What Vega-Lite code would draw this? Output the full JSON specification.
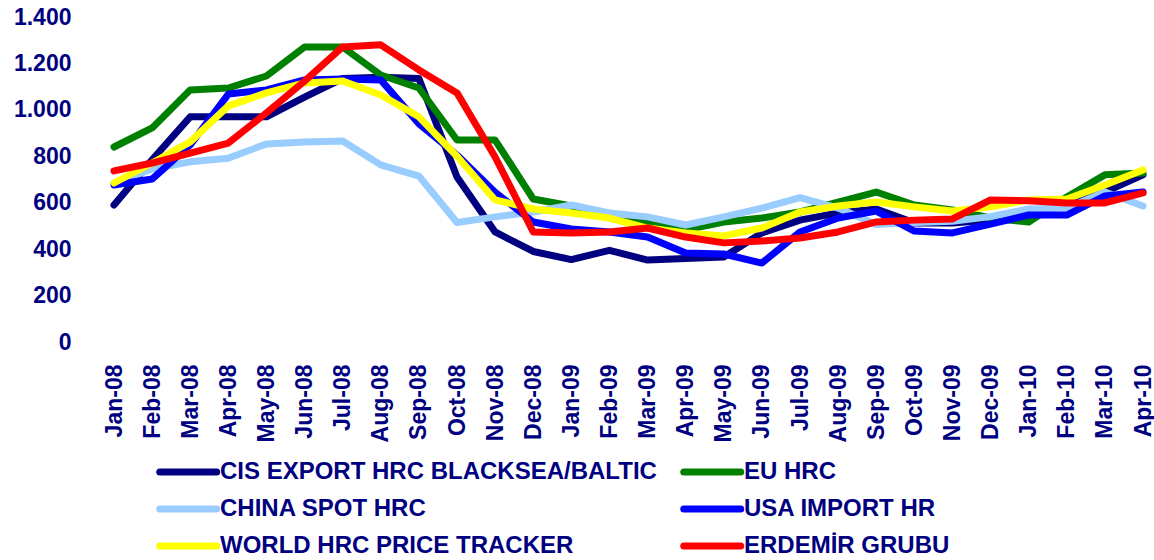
{
 "$schema": "https://vega.github.io/schema/vega-lite/v6.json",
 "width": 1029,
 "height": 325,
 "autosize": {"type": "none"},
 "padding": {"left": 114, "top": 17, "right": 11, "bottom": 218},
 "config": {"view": {"stroke": null}, "font": "Liberation Sans"},
 "data": {"values": [
  {"s":"CIS EXPORT HRC BLACKSEA/BALTIC","m":"Jan-08","v":590},{"s":"CIS EXPORT HRC BLACKSEA/BALTIC","m":"Feb-08","v":785},{"s":"CIS EXPORT HRC BLACKSEA/BALTIC","m":"Mar-08","v":970},{"s":"CIS EXPORT HRC BLACKSEA/BALTIC","m":"Apr-08","v":970},{"s":"CIS EXPORT HRC BLACKSEA/BALTIC","m":"May-08","v":970},{"s":"CIS EXPORT HRC BLACKSEA/BALTIC","m":"Jun-08","v":1055},{"s":"CIS EXPORT HRC BLACKSEA/BALTIC","m":"Jul-08","v":1135},{"s":"CIS EXPORT HRC BLACKSEA/BALTIC","m":"Aug-08","v":1140},{"s":"CIS EXPORT HRC BLACKSEA/BALTIC","m":"Sep-08","v":1135},{"s":"CIS EXPORT HRC BLACKSEA/BALTIC","m":"Oct-08","v":711},{"s":"CIS EXPORT HRC BLACKSEA/BALTIC","m":"Nov-08","v":474},{"s":"CIS EXPORT HRC BLACKSEA/BALTIC","m":"Dec-08","v":390},{"s":"CIS EXPORT HRC BLACKSEA/BALTIC","m":"Jan-09","v":355},{"s":"CIS EXPORT HRC BLACKSEA/BALTIC","m":"Feb-09","v":395},{"s":"CIS EXPORT HRC BLACKSEA/BALTIC","m":"Mar-09","v":353},{"s":"CIS EXPORT HRC BLACKSEA/BALTIC","m":"Apr-09","v":360},{"s":"CIS EXPORT HRC BLACKSEA/BALTIC","m":"May-09","v":366},{"s":"CIS EXPORT HRC BLACKSEA/BALTIC","m":"Jun-09","v":470},{"s":"CIS EXPORT HRC BLACKSEA/BALTIC","m":"Jul-09","v":525},{"s":"CIS EXPORT HRC BLACKSEA/BALTIC","m":"Aug-09","v":556},{"s":"CIS EXPORT HRC BLACKSEA/BALTIC","m":"Sep-09","v":573},{"s":"CIS EXPORT HRC BLACKSEA/BALTIC","m":"Oct-09","v":513},{"s":"CIS EXPORT HRC BLACKSEA/BALTIC","m":"Nov-09","v":513},{"s":"CIS EXPORT HRC BLACKSEA/BALTIC","m":"Dec-09","v":525},{"s":"CIS EXPORT HRC BLACKSEA/BALTIC","m":"Jan-10","v":547},{"s":"CIS EXPORT HRC BLACKSEA/BALTIC","m":"Feb-10","v":600},{"s":"CIS EXPORT HRC BLACKSEA/BALTIC","m":"Mar-10","v":646},{"s":"CIS EXPORT HRC BLACKSEA/BALTIC","m":"Apr-10","v":720},
  {"s":"EU HRC","m":"Jan-08","v":840},{"s":"EU HRC","m":"Feb-08","v":922},{"s":"EU HRC","m":"Mar-08","v":1086},{"s":"EU HRC","m":"Apr-08","v":1094},{"s":"EU HRC","m":"May-08","v":1146},{"s":"EU HRC","m":"Jun-08","v":1271},{"s":"EU HRC","m":"Jul-08","v":1271},{"s":"EU HRC","m":"Aug-08","v":1150},{"s":"EU HRC","m":"Sep-08","v":1094},{"s":"EU HRC","m":"Oct-08","v":870},{"s":"EU HRC","m":"Nov-08","v":870},{"s":"EU HRC","m":"Dec-08","v":616},{"s":"EU HRC","m":"Jan-09","v":586},{"s":"EU HRC","m":"Feb-09","v":539},{"s":"EU HRC","m":"Mar-09","v":513},{"s":"EU HRC","m":"Apr-09","v":483},{"s":"EU HRC","m":"May-09","v":517},{"s":"EU HRC","m":"Jun-09","v":534},{"s":"EU HRC","m":"Jul-09","v":560},{"s":"EU HRC","m":"Aug-09","v":603},{"s":"EU HRC","m":"Sep-09","v":646},{"s":"EU HRC","m":"Oct-09","v":590},{"s":"EU HRC","m":"Nov-09","v":569},{"s":"EU HRC","m":"Dec-09","v":534},{"s":"EU HRC","m":"Jan-10","v":517},{"s":"EU HRC","m":"Feb-10","v":625},{"s":"EU HRC","m":"Mar-10","v":720},{"s":"EU HRC","m":"Apr-10","v":728},
  {"s":"CHINA SPOT HRC","m":"Jan-08","v":685},{"s":"CHINA SPOT HRC","m":"Feb-08","v":745},{"s":"CHINA SPOT HRC","m":"Mar-08","v":776},{"s":"CHINA SPOT HRC","m":"Apr-08","v":792},{"s":"CHINA SPOT HRC","m":"May-08","v":853},{"s":"CHINA SPOT HRC","m":"Jun-08","v":862},{"s":"CHINA SPOT HRC","m":"Jul-08","v":866},{"s":"CHINA SPOT HRC","m":"Aug-08","v":763},{"s":"CHINA SPOT HRC","m":"Sep-08","v":715},{"s":"CHINA SPOT HRC","m":"Oct-08","v":515},{"s":"CHINA SPOT HRC","m":"Nov-08","v":539},{"s":"CHINA SPOT HRC","m":"Dec-08","v":560},{"s":"CHINA SPOT HRC","m":"Jan-09","v":590},{"s":"CHINA SPOT HRC","m":"Feb-09","v":556},{"s":"CHINA SPOT HRC","m":"Mar-09","v":539},{"s":"CHINA SPOT HRC","m":"Apr-09","v":504},{"s":"CHINA SPOT HRC","m":"May-09","v":539},{"s":"CHINA SPOT HRC","m":"Jun-09","v":577},{"s":"CHINA SPOT HRC","m":"Jul-09","v":622},{"s":"CHINA SPOT HRC","m":"Aug-09","v":577},{"s":"CHINA SPOT HRC","m":"Sep-09","v":506},{"s":"CHINA SPOT HRC","m":"Oct-09","v":515},{"s":"CHINA SPOT HRC","m":"Nov-09","v":520},{"s":"CHINA SPOT HRC","m":"Dec-09","v":540},{"s":"CHINA SPOT HRC","m":"Jan-10","v":573},{"s":"CHINA SPOT HRC","m":"Feb-10","v":577},{"s":"CHINA SPOT HRC","m":"Mar-10","v":646},{"s":"CHINA SPOT HRC","m":"Apr-10","v":586},
  {"s":"USA IMPORT HR","m":"Jan-08","v":676},{"s":"USA IMPORT HR","m":"Feb-08","v":702},{"s":"USA IMPORT HR","m":"Mar-08","v":849},{"s":"USA IMPORT HR","m":"Apr-08","v":1068},{"s":"USA IMPORT HR","m":"May-08","v":1086},{"s":"USA IMPORT HR","m":"Jun-08","v":1129},{"s":"USA IMPORT HR","m":"Jul-08","v":1133},{"s":"USA IMPORT HR","m":"Aug-08","v":1129},{"s":"USA IMPORT HR","m":"Sep-08","v":940},{"s":"USA IMPORT HR","m":"Oct-08","v":805},{"s":"USA IMPORT HR","m":"Nov-08","v":645},{"s":"USA IMPORT HR","m":"Dec-08","v":517},{"s":"USA IMPORT HR","m":"Jan-09","v":487},{"s":"USA IMPORT HR","m":"Feb-09","v":474},{"s":"USA IMPORT HR","m":"Mar-09","v":452},{"s":"USA IMPORT HR","m":"Apr-09","v":383},{"s":"USA IMPORT HR","m":"May-09","v":379},{"s":"USA IMPORT HR","m":"Jun-09","v":340},{"s":"USA IMPORT HR","m":"Jul-09","v":474},{"s":"USA IMPORT HR","m":"Aug-09","v":534},{"s":"USA IMPORT HR","m":"Sep-09","v":564},{"s":"USA IMPORT HR","m":"Oct-09","v":478},{"s":"USA IMPORT HR","m":"Nov-09","v":470},{"s":"USA IMPORT HR","m":"Dec-09","v":508},{"s":"USA IMPORT HR","m":"Jan-10","v":547},{"s":"USA IMPORT HR","m":"Feb-10","v":547},{"s":"USA IMPORT HR","m":"Mar-10","v":629},{"s":"USA IMPORT HR","m":"Apr-10","v":646},
  {"s":"WORLD HRC PRICE TRACKER","m":"Jan-08","v":685},{"s":"WORLD HRC PRICE TRACKER","m":"Feb-08","v":771},{"s":"WORLD HRC PRICE TRACKER","m":"Mar-08","v":862},{"s":"WORLD HRC PRICE TRACKER","m":"Apr-08","v":1017},{"s":"WORLD HRC PRICE TRACKER","m":"May-08","v":1073},{"s":"WORLD HRC PRICE TRACKER","m":"Jun-08","v":1116},{"s":"WORLD HRC PRICE TRACKER","m":"Jul-08","v":1124},{"s":"WORLD HRC PRICE TRACKER","m":"Aug-08","v":1064},{"s":"WORLD HRC PRICE TRACKER","m":"Sep-08","v":970},{"s":"WORLD HRC PRICE TRACKER","m":"Oct-08","v":800},{"s":"WORLD HRC PRICE TRACKER","m":"Nov-08","v":612},{"s":"WORLD HRC PRICE TRACKER","m":"Dec-08","v":573},{"s":"WORLD HRC PRICE TRACKER","m":"Jan-09","v":556},{"s":"WORLD HRC PRICE TRACKER","m":"Feb-09","v":534},{"s":"WORLD HRC PRICE TRACKER","m":"Mar-09","v":491},{"s":"WORLD HRC PRICE TRACKER","m":"Apr-09","v":470},{"s":"WORLD HRC PRICE TRACKER","m":"May-09","v":457},{"s":"WORLD HRC PRICE TRACKER","m":"Jun-09","v":491},{"s":"WORLD HRC PRICE TRACKER","m":"Jul-09","v":560},{"s":"WORLD HRC PRICE TRACKER","m":"Aug-09","v":586},{"s":"WORLD HRC PRICE TRACKER","m":"Sep-09","v":603},{"s":"WORLD HRC PRICE TRACKER","m":"Oct-09","v":582},{"s":"WORLD HRC PRICE TRACKER","m":"Nov-09","v":564},{"s":"WORLD HRC PRICE TRACKER","m":"Dec-09","v":582},{"s":"WORLD HRC PRICE TRACKER","m":"Jan-10","v":612},{"s":"WORLD HRC PRICE TRACKER","m":"Feb-10","v":616},{"s":"WORLD HRC PRICE TRACKER","m":"Mar-10","v":676},{"s":"WORLD HRC PRICE TRACKER","m":"Apr-10","v":741},
  {"s":"ERDEMİR GRUBU","m":"Jan-08","v":737},{"s":"ERDEMİR GRUBU","m":"Feb-08","v":771},{"s":"ERDEMİR GRUBU","m":"Mar-08","v":814},{"s":"ERDEMİR GRUBU","m":"Apr-08","v":857},{"s":"ERDEMİR GRUBU","m":"May-08","v":987},{"s":"ERDEMİR GRUBU","m":"Jun-08","v":1124},{"s":"ERDEMİR GRUBU","m":"Jul-08","v":1271},{"s":"ERDEMİR GRUBU","m":"Aug-08","v":1280},{"s":"ERDEMİR GRUBU","m":"Sep-08","v":1172},{"s":"ERDEMİR GRUBU","m":"Oct-08","v":1073},{"s":"ERDEMİR GRUBU","m":"Nov-08","v":797},{"s":"ERDEMİR GRUBU","m":"Dec-08","v":474},{"s":"ERDEMİR GRUBU","m":"Jan-09","v":470},{"s":"ERDEMİR GRUBU","m":"Feb-09","v":474},{"s":"ERDEMİR GRUBU","m":"Mar-09","v":491},{"s":"ERDEMİR GRUBU","m":"Apr-09","v":452},{"s":"ERDEMİR GRUBU","m":"May-09","v":427},{"s":"ERDEMİR GRUBU","m":"Jun-09","v":435},{"s":"ERDEMİR GRUBU","m":"Jul-09","v":448},{"s":"ERDEMİR GRUBU","m":"Aug-09","v":474},{"s":"ERDEMİR GRUBU","m":"Sep-09","v":517},{"s":"ERDEMİR GRUBU","m":"Oct-09","v":525},{"s":"ERDEMİR GRUBU","m":"Nov-09","v":530},{"s":"ERDEMİR GRUBU","m":"Dec-09","v":612},{"s":"ERDEMİR GRUBU","m":"Jan-10","v":608},{"s":"ERDEMİR GRUBU","m":"Feb-10","v":599},{"s":"ERDEMİR GRUBU","m":"Mar-10","v":599},{"s":"ERDEMİR GRUBU","m":"Apr-10","v":642}
 ]},
 "mark": {"type": "line", "strokeWidth": 7, "strokeCap": "round", "strokeJoin": "round"},
 "encoding": {
  "x": {"field": "m", "type": "ordinal",
   "sort": ["Jan-08","Feb-08","Mar-08","Apr-08","May-08","Jun-08","Jul-08","Aug-08","Sep-08","Oct-08","Nov-08","Dec-08","Jan-09","Feb-09","Mar-09","Apr-09","May-09","Jun-09","Jul-09","Aug-09","Sep-09","Oct-09","Nov-09","Dec-09","Jan-10","Feb-10","Mar-10","Apr-10"],
   "scale": {"type": "point", "padding": 0},
   "axis": {"title": null, "labelAngle": -90, "labelFontSize": 23, "labelFontWeight": "bold", "labelColor": "#000080", "ticks": false, "domain": false, "labelPadding": 22}},
  "y": {"field": "v", "type": "quantitative",
   "scale": {"domain": [0, 1400], "nice": false},
   "axis": {"title": null, "values": [0,200,400,600,800,1000,1200,1400], "labelExpr": "replace(format(datum.value, ','), ',', '.')", "grid": false, "ticks": false, "domain": false, "labelFontSize": 23, "labelFontWeight": "bold", "labelColor": "#000080", "labelPadding": 43}},
  "color": {"field": "s", "type": "nominal",
   "scale": {"domain": ["CIS EXPORT HRC BLACKSEA/BALTIC","CHINA SPOT HRC","WORLD HRC PRICE TRACKER","EU HRC","USA IMPORT HR","ERDEMİR GRUBU"],
    "range": ["#000080","#99CCFF","#FFFF00","#008000","#0000FF","#FF0000"]},
   "legend": {"title": null, "orient": "none", "legendX": 42, "legendY": 437, "columns": 2, "symbolType": "M-1,0H3", "symbolSize": 812, "symbolStrokeWidth": 7, "labelFontSize": 24, "labelFontWeight": "bold", "labelColor": "#000080", "rowPadding": 5, "columnPadding": 12, "labelOffset": 28, "labelLimit": 0, "padding": 0,
    "encode": {"symbols": {"update": {"strokeCap": {"value": "round"}}}}}}
 }
}
